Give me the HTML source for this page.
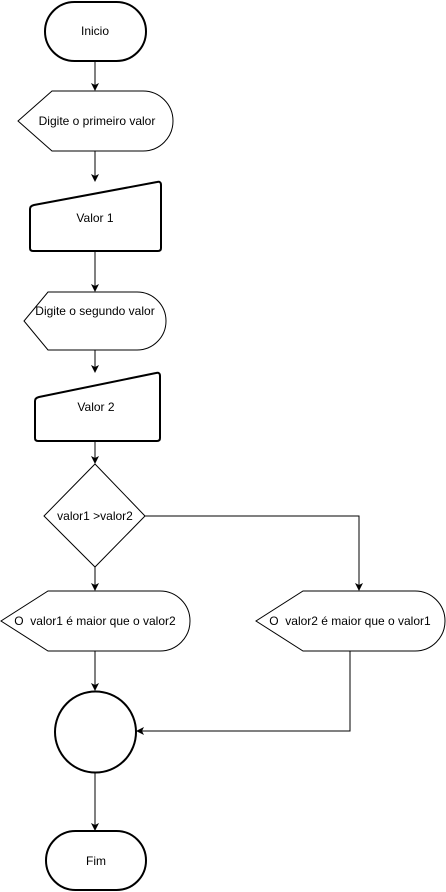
<!DOCTYPE html>
<html><head><style>html,body{margin:0;padding:0;background:#fff}svg{display:block}text{font-family:"Liberation Sans",sans-serif;font-size:12px;fill:#000;white-space:pre}</style></head><body>
<svg width="446" height="892" viewBox="0 0 446 892">
<defs><marker id="a" markerWidth="8" markerHeight="8" refX="7" refY="4" orient="auto" markerUnits="userSpaceOnUse"><path d="M0,0 L8,4 L0,8 L2,4 Z" fill="#000"/></marker></defs>
<g fill="#fff" stroke="#000">
<rect x="45" y="2" width="101" height="59" rx="29.5" stroke-width="2"/>
<path d="M52,91 H143 A30,30 0 0 1 143,151 H52 L18,121 Z" stroke-width="1"/>
<path d="M34,205 L157,182 Q161,181 161,185 V248 Q161,251 158,251 H33 Q30,251 30,248 V209 Q30,206 34,205 Z" stroke-width="2"/>
<path d="M48,292 H137 A29,29 0 0 1 137,350 H48 L24,321 Z" stroke-width="1"/>
<path d="M39,397 L156,373 Q160,372 160,376 V438 Q160,441 157,441 H38 Q35,441 35,438 V401 Q35,398 39,397 Z" stroke-width="2"/>
<path d="M95,464 L145,516 L95,567 L44,516 Z" stroke-width="1"/>
<path d="M48,591 H160 A30,30 0 0 1 160,651 H48 L1,621 Z" stroke-width="1"/>
<path d="M303,591 H415 A30,30 0 0 1 415,651 H303 L256,621 Z" stroke-width="1"/>
<circle cx="95.5" cy="732" r="40.5" stroke-width="2"/>
<rect x="46" y="831" width="100" height="59" rx="29.5" stroke-width="2"/>
</g>
<g stroke="#000" stroke-width="1" fill="none">
<line x1="95" y1="61" x2="95" y2="90" marker-end="url(#a)"/>
<line x1="95" y1="151" x2="95" y2="181" marker-end="url(#a)"/>
<line x1="95" y1="251" x2="95" y2="291" marker-end="url(#a)"/>
<line x1="95" y1="350" x2="95" y2="372" marker-end="url(#a)"/>
<line x1="95" y1="441" x2="95" y2="463" marker-end="url(#a)"/>
<line x1="95" y1="567" x2="95" y2="590" marker-end="url(#a)"/>
<polyline points="145,516 359,516 359,590" marker-end="url(#a)"/>
<line x1="95" y1="651" x2="95" y2="690" marker-end="url(#a)"/>
<polyline points="350,651 350,731 137,731" marker-end="url(#a)"/>
<line x1="95" y1="773" x2="95" y2="830" marker-end="url(#a)"/>
</g>
<g text-anchor="middle">
<text x="95" y="35">Inicio</text>
<text x="97" y="125">Digite o primeiro valor</text>
<text x="95" y="222">Valor 1</text>
<text x="95" y="315">Digite o segundo valor</text>
<text x="96" y="411">Valor 2</text>
<text x="95" y="520">valor1 &gt;valor2</text>
<text x="95" y="625">O &#160;valor1 é maior que o valor2</text>
<text x="350" y="625">O &#160;valor2 é maior que o valor1</text>
<text x="96" y="865">Fim</text>
</g>
</svg>
</body></html>
